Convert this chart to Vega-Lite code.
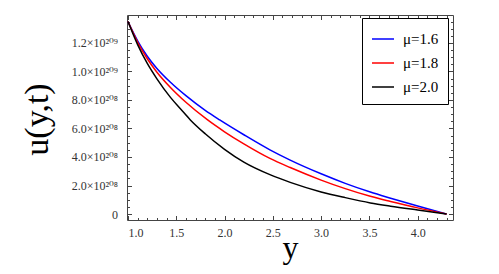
{
  "$schema": "https://vega.github.io/schema/vega-lite/v6.json",
  "autosize": "none",
  "width": 326,
  "height": 205,
  "padding": {"left": 127, "top": 15, "right": 46, "bottom": 54},
  "background": "white",
  "config": {"view": {"stroke": null}},
  "data": {"values": [
    {"y": 1.0, "u": 13.5e208, "mu": "μ=1.6"},
    {"y": 1.1, "u": 12.15e208, "mu": "μ=1.6"},
    {"y": 1.2, "u": 11.07e208, "mu": "μ=1.6"},
    {"y": 1.3, "u": 10.21e208, "mu": "μ=1.6"},
    {"y": 1.44, "u": 9.24e208, "mu": "μ=1.6"},
    {"y": 1.6, "u": 8.3e208, "mu": "μ=1.6"},
    {"y": 1.8, "u": 7.27e208, "mu": "μ=1.6"},
    {"y": 1.95, "u": 6.6e208, "mu": "μ=1.6"},
    {"y": 2.2, "u": 5.56e208, "mu": "μ=1.6"},
    {"y": 2.47, "u": 4.5e208, "mu": "μ=1.6"},
    {"y": 2.68, "u": 3.78e208, "mu": "μ=1.6"},
    {"y": 3.0, "u": 2.82e208, "mu": "μ=1.6"},
    {"y": 3.25, "u": 2.15e208, "mu": "μ=1.6"},
    {"y": 3.51, "u": 1.54e208, "mu": "μ=1.6"},
    {"y": 3.72, "u": 1.11e208, "mu": "μ=1.6"},
    {"y": 4.0, "u": 0.56e208, "mu": "μ=1.6"},
    {"y": 4.3, "u": 0, "mu": "μ=1.6"},
    {"y": 1.0, "u": 13.5e208, "mu": "μ=1.8"},
    {"y": 1.1, "u": 12.05e208, "mu": "μ=1.8"},
    {"y": 1.2, "u": 10.89e208, "mu": "μ=1.8"},
    {"y": 1.3, "u": 9.95e208, "mu": "μ=1.8"},
    {"y": 1.44, "u": 8.88e208, "mu": "μ=1.8"},
    {"y": 1.6, "u": 7.84e208, "mu": "μ=1.8"},
    {"y": 1.825, "u": 6.6e208, "mu": "μ=1.8"},
    {"y": 2.0, "u": 5.77e208, "mu": "μ=1.8"},
    {"y": 2.2, "u": 4.92e208, "mu": "μ=1.8"},
    {"y": 2.47, "u": 3.9e208, "mu": "μ=1.8"},
    {"y": 2.68, "u": 3.26e208, "mu": "μ=1.8"},
    {"y": 3.0, "u": 2.38e208, "mu": "μ=1.8"},
    {"y": 3.25, "u": 1.78e208, "mu": "μ=1.8"},
    {"y": 3.51, "u": 1.24e208, "mu": "μ=1.8"},
    {"y": 3.72, "u": 0.88e208, "mu": "μ=1.8"},
    {"y": 4.0, "u": 0.43e208, "mu": "μ=1.8"},
    {"y": 4.3, "u": 0, "mu": "μ=1.8"},
    {"y": 1.0, "u": 13.5e208, "mu": "μ=2.0"},
    {"y": 1.1, "u": 11.88e208, "mu": "μ=2.0"},
    {"y": 1.2, "u": 10.56e208, "mu": "μ=2.0"},
    {"y": 1.3, "u": 9.48e208, "mu": "μ=2.0"},
    {"y": 1.44, "u": 8.18e208, "mu": "μ=2.0"},
    {"y": 1.55, "u": 7.33e208, "mu": "μ=2.0"},
    {"y": 1.646, "u": 6.6e208, "mu": "μ=2.0"},
    {"y": 1.8, "u": 5.63e208, "mu": "μ=2.0"},
    {"y": 2.0, "u": 4.54e208, "mu": "μ=2.0"},
    {"y": 2.2, "u": 3.64e208, "mu": "μ=2.0"},
    {"y": 2.47, "u": 2.76e208, "mu": "μ=2.0"},
    {"y": 2.68, "u": 2.22e208, "mu": "μ=2.0"},
    {"y": 3.0, "u": 1.55e208, "mu": "μ=2.0"},
    {"y": 3.25, "u": 1.15e208, "mu": "μ=2.0"},
    {"y": 3.51, "u": 0.78e208, "mu": "μ=2.0"},
    {"y": 3.72, "u": 0.55e208, "mu": "μ=2.0"},
    {"y": 4.0, "u": 0.28e208, "mu": "μ=2.0"},
    {"y": 4.3, "u": 0, "mu": "μ=2.0"}
  ]},
  "resolve": {"axis": {"x": "independent", "y": "independent"}},
  "layer": [
    {
      "mark": {"type": "line", "opacity": 0},
      "encoding": {
        "x": {
          "field": "y", "type": "quantitative",
          "scale": {"domain": [0.99, 4.366], "nice": false, "zero": false},
          "axis": {
            "orient": "bottom",
            "values": [1.1,1.2,1.3,1.4,1.6,1.7,1.8,1.9,2.1,2.2,2.3,2.4,2.6,2.7,2.8,2.9,3.1,3.2,3.3,3.4,3.6,3.7,3.8,3.9,4.1,4.2,4.3],
            "labels": false, "title": null, "grid": false, "domain": false,
            "tickSize": -2.5, "tickColor": "#444"
          }
        },
        "y": {
          "field": "u", "type": "quantitative",
          "scale": {"domain": [-0.42e208, 13.96e208], "nice": false, "zero": false},
          "axis": {
            "orient": "left",
            "values": [0.5e208,1e208,1.5e208,2.5e208,3e208,3.5e208,4.5e208,5e208,5.5e208,6.5e208,7e208,7.5e208,8.5e208,9e208,9.5e208,10.5e208,11e208,11.5e208,12.5e208,13e208,13.5e208],
            "labels": false, "title": null, "grid": false, "domain": false,
            "tickSize": -2.5, "tickColor": "#444"
          }
        },
        "detail": {"field": "mu", "type": "nominal"}
      }
    },
    {
      "mark": {"type": "line", "opacity": 0},
      "encoding": {
        "x": {
          "field": "y", "type": "quantitative",
          "axis": {
            "orient": "top",
            "values": [1.1,1.2,1.3,1.4,1.6,1.7,1.8,1.9,2.1,2.2,2.3,2.4,2.6,2.7,2.8,2.9,3.1,3.2,3.3,3.4,3.6,3.7,3.8,3.9,4.1,4.2,4.3],
            "labels": false, "title": null, "grid": false, "domain": false,
            "tickSize": -2.5, "tickColor": "#444"
          }
        },
        "y": {
          "field": "u", "type": "quantitative",
          "axis": {
            "orient": "right",
            "values": [0.5e208,1e208,1.5e208,2.5e208,3e208,3.5e208,4.5e208,5e208,5.5e208,6.5e208,7e208,7.5e208,8.5e208,9e208,9.5e208,10.5e208,11e208,11.5e208,12.5e208,13e208,13.5e208],
            "labels": false, "title": null, "grid": false, "domain": false,
            "tickSize": -2.5, "tickColor": "#444"
          }
        },
        "detail": {"field": "mu", "type": "nominal"}
      }
    },
    {
      "mark": {"type": "line", "opacity": 0},
      "encoding": {
        "x": {
          "field": "y", "type": "quantitative",
          "axis": {
            "orient": "top",
            "values": [1, 1.5, 2, 2.5, 3, 3.5, 4],
            "labels": false, "title": null, "grid": false,
            "tickSize": -4.5, "domainColor": "#444", "tickColor": "#444"
          }
        },
        "y": {
          "field": "u", "type": "quantitative",
          "axis": {
            "orient": "right",
            "values": [0, 2e208, 4e208, 6e208, 8e208, 10e208, 12e208],
            "labels": false, "title": null, "grid": false,
            "tickSize": -4.5, "domainColor": "#444", "tickColor": "#444"
          }
        },
        "detail": {"field": "mu", "type": "nominal"}
      }
    },
    {
      "mark": {"type": "line", "interpolate": "monotone", "strokeWidth": 1.5},
      "encoding": {
        "x": {
          "field": "y", "type": "quantitative",
          "axis": {
            "orient": "bottom",
            "values": [1, 1.5, 2, 2.5, 3, 3.5, 4],
            "format": ".1f",
            "tickSize": -4.5,
            "labelPadding": 12,
            "grid": false,
            "domainColor": "#444", "tickColor": "#444", "labelColor": "#333",
            "labelFont": "Liberation Serif, DejaVu Serif", "labelFontSize": 12,
            "title": "y",
            "titleFont": "Liberation Serif", "titleFontSize": 32, "titleFontWeight": "normal", "titleColor": "black",
            "titleBaseline": "alphabetic", "titleY": 37
          }
        },
        "y": {
          "field": "u", "type": "quantitative",
          "axis": {
            "orient": "left",
            "values": [0, 2e208, 4e208, 6e208, 8e208, 10e208, 12e208],
            "labelExpr": "datum.value == 0 ? '0' : (datum.value > 9.9e208 ? format(datum.value/1e209, '.1f') + '×10²⁰⁹' : format(datum.value/1e208, '.1f') + '×10²⁰⁸')",
            "tickSize": -4.5,
            "labelPadding": 14,
            "grid": false,
            "domainColor": "#444", "tickColor": "#444", "labelColor": "#333",
            "labelFont": "Liberation Serif, DejaVu Serif", "labelFontSize": 12,
            "title": "u(y,t)",
            "titleFont": "Liberation Serif", "titleFontSize": 34, "titleFontWeight": "normal", "titleColor": "black",
            "titleBaseline": "middle", "titleX": -90, "titleY": 104
          }
        },
        "color": {
          "field": "mu", "type": "nominal",
          "scale": {"domain": ["μ=1.6", "μ=1.8", "μ=2.0"], "range": ["#0000ff", "#ff0000", "#000000"]},
          "legend": {
            "title": null,
            "orient": "none", "legendX": 235, "legendY": 3,
            "strokeColor": "black", "fillColor": "white",
            "padding": 9,
            "symbolType": "stroke", "symbolSize": 484, "symbolStrokeWidth": 1.5,
            "labelFont": "Liberation Serif", "labelFontSize": 15, "labelColor": "black",
            "labelOffset": 8, "rowPadding": 4,
            "encoding": {"legend": {"update": {"strokeWidth": {"value": 2}}}}
          }
        }
      }
    }
  ]
}
